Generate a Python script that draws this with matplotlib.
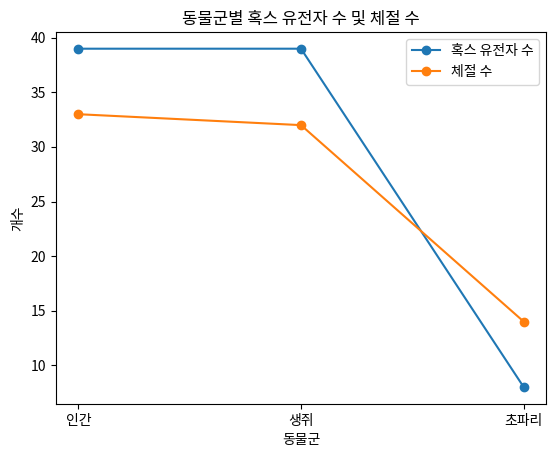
import matplotlib
matplotlib.use('Agg')
import matplotlib.pyplot as plt
plt.rcParams['font.family'] = ['Noto Sans CJK KR', 'DejaVu Sans']

categories = ['인간', '생쥐', '초파리']
hox_genes = [39, 39, 8]
segments = [33, 32, 14]

fig, ax = plt.subplots(figsize=(5.6, 4.54), dpi=100)
ax.plot(categories, hox_genes, marker='o', label='혹스 유전자 수')
ax.plot(categories, segments, marker='o', label='체절 수')
ax.set_title('동물군별 혹스 유전자 수 및 체절 수')
ax.set_xlabel('동물군')
ax.set_ylabel('개수')
ax.legend()
fig.subplots_adjust(left=0.1, right=0.975, top=0.93, bottom=0.11)
fig.savefig('out.png')
